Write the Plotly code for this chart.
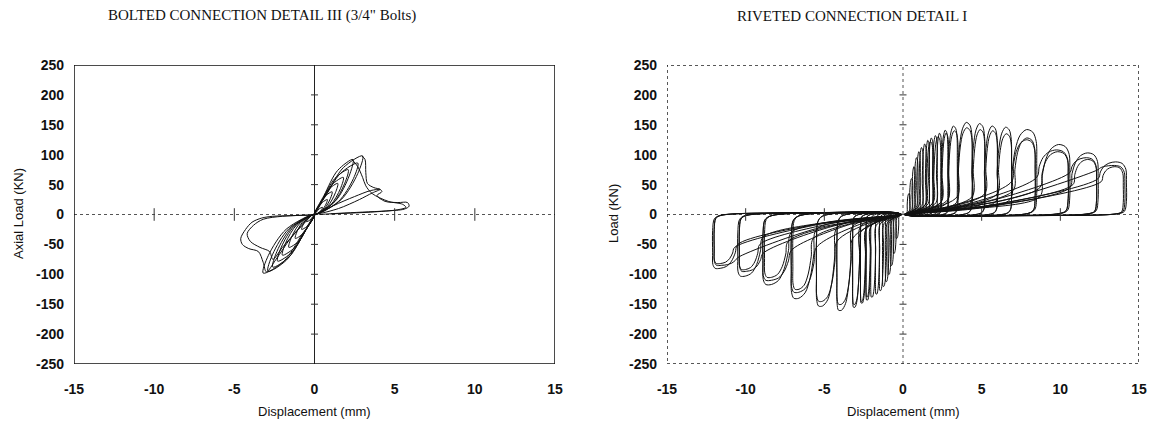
import plotly.graph_objects as go

# ---------------- axis ticks ----------------
x_ticks = [-15, -10, -5, 0, 5, 10, 15]
x_tick_text = ["-15", "-10", "-5", "0", "5", "10", "15"]
y_ticks = [-250, -200, -150, -100, -50, 0, 50, 100, 150, 200, 250]
y_tick_text = ["-250", "-200", "-150", "-100", "-50", "0", "50", "100", "150", "200", "250"]

# ---------------- bolted connection (left) ----------------
# tips of the pinched leaves (displacement mm, load kN)
bolt_pos_tip_d = [0.5, 0.8, 1.1, 1.45, 1.8, 2.1, 2.4, 2.7, 3.0]
bolt_pos_tip_p = [12, 25, 38, 52, 62, 75, 92, 86, 98]
bolt_neg_tip_d = [-0.5, -0.8, -1.2, -1.6, -2.0, -2.3, -2.6, -2.9, -3.2]
bolt_neg_tip_p = [-12, -25, -40, -55, -68, -78, -88, -95, -98]

# post-peak paths on the tension side
bolt_tail_a_d = [2.95, 3.15, 3.2, 3.3, 3.7, 4.1, 4.2, 3.9, 4.4, 5.2, 5.8, 5.9, 5.6, 4.5, 3.0, 1.5, 0.3]
bolt_tail_a_p = [98, 92, 70, 52, 45, 42, 38, 32, 22, 20, 20, 14, 9, 6, 4, 2, 0]
bolt_tail_b_d = [0.3, 1.5, 2.8, 3.6, 4.1, 3.5, 2.5, 1.2, 0.3]
bolt_tail_b_p = [2, 10, 25, 36, 42, 40, 30, 15, 2]
bolt_tail_c_d = [2.4, 2.7, 3.0, 3.2, 3.6, 4.6, 5.5, 5.7, 5.2, 3.5, 1.0]
bolt_tail_c_p = [90, 80, 62, 48, 35, 22, 17, 12, 8, 4, 1]

# outer loops on the compression side
bolt_outer_a_d = [-0.3, -1.5, -2.6, -3.3, -3.9, -4.3, -4.6, -4.5, -4.1, -3.5, -3.2, -3.0, -2.4, -1.5, -0.5]
bolt_outer_a_p = [-1, -2, -3, -6, -13, -25, -40, -50, -57, -62, -80, -96, -75, -40, -8]
bolt_outer_b_d = [-0.3, -2.0, -3.2, -3.8, -4.2, -4.0, -3.4, -2.8, -2.6, -2.0, -1.0, -0.2]
bolt_outer_b_p = [-1, -3, -8, -18, -32, -45, -55, -62, -75, -55, -25, -2]

# ---------------- riveted connection (right) ----------------
# tension half-cycles: bearing start, load there, peak displacement, peak load
riv_pos_start = [0.25, 0.4, 0.55, 0.7, 0.85, 1.0, 1.2, 1.4, 1.6, 1.85, 2.1, 2.4, 2.8, 3.4, 4.3, 5.1, 5.9, 6.8, 8.7, 10.6, 12.4]
riv_pos_base = [3, 6, 8, 10, 12, 14, 15, 16, 18, 18, 20, 20, 20, 20, 20, 20, 22, 25, 30, 45, 60]
riv_pos_end = [0.45, 0.62, 0.78, 0.95, 1.1, 1.28, 1.48, 1.68, 1.92, 2.18, 2.45, 2.85, 3.45, 4.4, 5.2, 6.0, 6.9, 8.5, 10.6, 12.4, 14.2]
riv_pos_peak = [35, 60, 80, 95, 105, 112, 118, 124, 128, 132, 136, 141, 148, 154, 152, 148, 146, 142, 117, 103, 88]
# repeated cycles at the same amplitude (reload along the slip diagonal)
riv_pos2_start = [12.4, 12.6, 10.6, 10.8, 8.5, 8.7, 6.9, 7.0, 6.0, 5.2, 4.4, 3.45, 2.85, 2.45, 1.92, 1.48]
riv_pos2_base = [75, 55, 70, 50, 62, 45, 55, 40, 35, 35, 30, 30, 25, 22, 20, 18]
riv_pos2_end = [14.1, 14.0, 12.3, 12.3, 10.5, 10.5, 8.4, 8.4, 6.9, 6.0, 5.2, 4.4, 3.5, 2.9, 2.4, 1.9]
riv_pos2_peak = [82, 80, 95, 92, 108, 105, 125, 128, 135, 140, 142, 145, 140, 136, 130, 122]

# compression half-cycles
riv_neg_start = [-0.25, -0.4, -0.55, -0.7, -0.85, -1.0, -1.2, -1.45, -1.7, -2.0, -2.3, -2.7, -3.2, -4.2, -5.5, -7.1, -8.9, -10.5]
riv_neg_base = [-3, -6, -8, -10, -12, -14, -15, -16, -18, -18, -20, -20, -20, -22, -25, -30, -38, -50]
riv_neg_end = [-0.45, -0.62, -0.78, -0.95, -1.12, -1.3, -1.5, -1.75, -2.05, -2.35, -2.7, -3.2, -4.2, -5.5, -7.1, -8.9, -10.5, -12.1]
riv_neg_peak = [-40, -65, -85, -100, -112, -120, -127, -133, -138, -143, -148, -155, -160, -153, -140, -117, -103, -90]
riv_neg2_start = [-10.5, -10.7, -8.9, -9.1, -7.1, -7.3, -5.5, -5.7, -4.2, -3.2, -2.7, -2.35, -2.05]
riv_neg2_base = [-72, -55, -65, -50, -60, -45, -55, -40, -45, -40, -30, -25, -20]
riv_neg2_end = [-12.0, -12.0, -10.4, -10.4, -8.9, -8.8, -7.1, -7.0, -5.5, -4.2, -3.2, -2.7, -2.35]
riv_neg2_peak = [-85, -82, -95, -92, -110, -105, -130, -125, -145, -150, -150, -145, -138]


def pos_finger(s, b, e, p):
    w = e - s
    r = p - b
    xs = [0.1, 0.5 * s, s, s + 0.08 * w, s + 0.2 * w, s + 0.38 * w, s + 0.62 * w, s + 0.85 * w,
          e - 0.02 * w, e, e, e - 0.07 * w, e - 0.3 * w, 0.5 * e, 0.1]
    ys = [0, 0.3 * b, b, b + 0.4 * r, b + 0.72 * r, b + 0.92 * r, p, 0.97 * p,
          0.86 * p, 0.6 * p, 0.25 * p, 0.06 * p, 0.015 * p, -0.02 * p, 0]
    return xs, ys


def neg_finger(s, b, e, p):
    w = s - e
    r = p - b
    xs = [-0.1, 0.5 * s, s, s - 0.1 * w, s - 0.25 * w, s - 0.45 * w, s - 0.7 * w, e + 0.1 * w,
          e + 0.01 * w, e, e, e + 0.07 * w, e + 0.28 * w, 0.5 * e, -0.1]
    ys = [0, 0.3 * b, b, b + 0.35 * r, b + 0.7 * r, b + 0.92 * r, p, p,
          0.93 * p, 0.7 * p, 0.3 * p, 0.08 * p, 0.02 * p, -0.03 * p, 0]
    return xs, ys


def leaf(d, p):
    xs = [0, 0.55 * d, 0.9 * d, d, 0.6 * d, 0.25 * d, 0]
    ys = [0, 0.25 * p, 0.7 * p, p, 0.8 * p, 0.35 * p, 0]
    return xs, ys


def join(paths):
    X, Y = [], []
    for xs, ys in paths:
        X += list(xs) + [None]
        Y += list(ys) + [None]
    return X, Y


bolt_paths = [leaf(d, p) for d, p in zip(bolt_pos_tip_d, bolt_pos_tip_p)]
bolt_paths += [leaf(d, p) for d, p in zip(bolt_neg_tip_d, bolt_neg_tip_p)]
bolt_paths += [(bolt_tail_a_d, bolt_tail_a_p), (bolt_tail_b_d, bolt_tail_b_p),
               (bolt_tail_c_d, bolt_tail_c_p), (bolt_outer_a_d, bolt_outer_a_p),
               (bolt_outer_b_d, bolt_outer_b_p)]
bx, by = join(bolt_paths)

riv_paths = [pos_finger(*v) for v in zip(riv_pos_start, riv_pos_base, riv_pos_end, riv_pos_peak)]
riv_paths += [pos_finger(*v) for v in zip(riv_pos2_start, riv_pos2_base, riv_pos2_end, riv_pos2_peak)]
riv_paths += [neg_finger(*v) for v in zip(riv_neg_start, riv_neg_base, riv_neg_end, riv_neg_peak)]
riv_paths += [neg_finger(*v) for v in zip(riv_neg2_start, riv_neg2_base, riv_neg2_end, riv_neg2_peak)]
rx, ry = join(riv_paths)

fig = go.Figure()
line_style = dict(color="#111111", width=1, shape="spline", smoothing=0.9)
fig.add_trace(go.Scatter(x=bx, y=by, mode="lines", line=line_style, xaxis="x", yaxis="y",
                         showlegend=False, hoverinfo="skip"))
fig.add_trace(go.Scatter(x=rx, y=ry, mode="lines", line=line_style, xaxis="x2", yaxis="y2",
                         showlegend=False, hoverinfo="skip"))

# small tick marks on the zero axes
inner_x = [t for t in x_ticks if t not in (-15, 0, 15)]
inner_y = [t for t in y_ticks if t not in (-250, 0, 250)]
for xa, ya in (("x", "y"), ("x2", "y2")):
    fig.add_trace(go.Scatter(x=inner_x, y=[0] * len(inner_x), mode="markers", xaxis=xa, yaxis=ya,
                             marker=dict(symbol="line-ns", size=9, line=dict(color="#333", width=1)),
                             showlegend=False, hoverinfo="skip"))
    fig.add_trace(go.Scatter(x=[0] * len(inner_y), y=inner_y, mode="markers", xaxis=xa, yaxis=ya,
                             marker=dict(symbol="line-ew", size=5, line=dict(color="#333", width=1)),
                             showlegend=False, hoverinfo="skip"))

W, H = 1155, 424
tick_font = dict(family="Liberation Sans, Arial, sans-serif", size=14, color="#111", weight="bold")
y_dom = [(H - 364) / H, (H - 65) / H]


def xaxis(dom, anchor):
    return dict(domain=dom, anchor=anchor, range=[-15, 15], tickvals=x_ticks, ticktext=x_tick_text,
                showgrid=False, zeroline=False, showline=False, ticks="", tickfont=tick_font,
                ticklabelstandoff=15, automargin=False, fixedrange=True)


def yaxis(anchor):
    return dict(domain=y_dom, anchor=anchor, range=[-250, 250], tickvals=y_ticks, ticktext=y_tick_text,
                showgrid=False, zeroline=False, showline=False, ticks="", tickfont=tick_font,
                ticklabelstandoff=9, automargin=False, fixedrange=True)


shapes = [
    # frames
    dict(type="rect", xref="x", yref="y", x0=-15, x1=15, y0=-250, y1=250,
         line=dict(color="#111", width=1.5)),
    dict(type="rect", xref="x2", yref="y2", x0=-15, x1=15, y0=-250, y1=250,
         line=dict(color="#222", width=1.5, dash="dot")),
    # zero axes
    dict(type="line", xref="x", yref="y", x0=-15, x1=15, y0=0, y1=0,
         line=dict(color="#555", width=1, dash="dot"), layer="below"),
    dict(type="line", xref="x", yref="y", x0=0, x1=0, y0=-250, y1=250,
         line=dict(color="#222", width=1), layer="below"),
    dict(type="line", xref="x2", yref="y2", x0=-15, x1=15, y0=0, y1=0,
         line=dict(color="#555", width=1, dash="dot"), layer="below"),
    dict(type="line", xref="x2", yref="y2", x0=0, x1=0, y0=-250, y1=250,
         line=dict(color="#555", width=1, dash="dot"), layer="below"),
]

title_font = dict(family="Liberation Serif, Times New Roman, serif", size=15, color="#111")
label_font = dict(family="Liberation Sans, Arial, sans-serif", size=13, color="#111")
annotations = [
    dict(text="BOLTED CONNECTION DETAIL III (3/4\" Bolts)", x=262 / W, y=(H - 16) / H),
    dict(text="RIVETED CONNECTION DETAIL I", x=852 / W, y=(H - 16) / H),
    dict(text="Axial Load (KN)", x=18 / W, y=(H - 214) / H, textangle=-90),
    dict(text="Load (KN)", x=613 / W, y=(H - 214) / H, textangle=-90),
    dict(text="Displacement (mm)", x=314 / W, y=(H - 411) / H),
    dict(text="Displacement (mm)", x=903 / W, y=(H - 411) / H),
]
for i, a in enumerate(annotations):
    a.update(xref="paper", yref="paper", showarrow=False, xanchor="center", yanchor="middle",
             font=title_font if i < 2 else label_font)

fig.update_layout(
    width=W, height=H, margin=dict(l=0, r=0, t=0, b=0),
    paper_bgcolor="white", plot_bgcolor="white", template="none",
    xaxis=xaxis([74 / W, 555 / W], "y"), yaxis=yaxis("x"),
    xaxis2=xaxis([667 / W, 1139 / W], "y2"), yaxis2=yaxis("x2"),
    shapes=shapes, annotations=annotations, showlegend=False,
)

fig.write_html("out.html")
